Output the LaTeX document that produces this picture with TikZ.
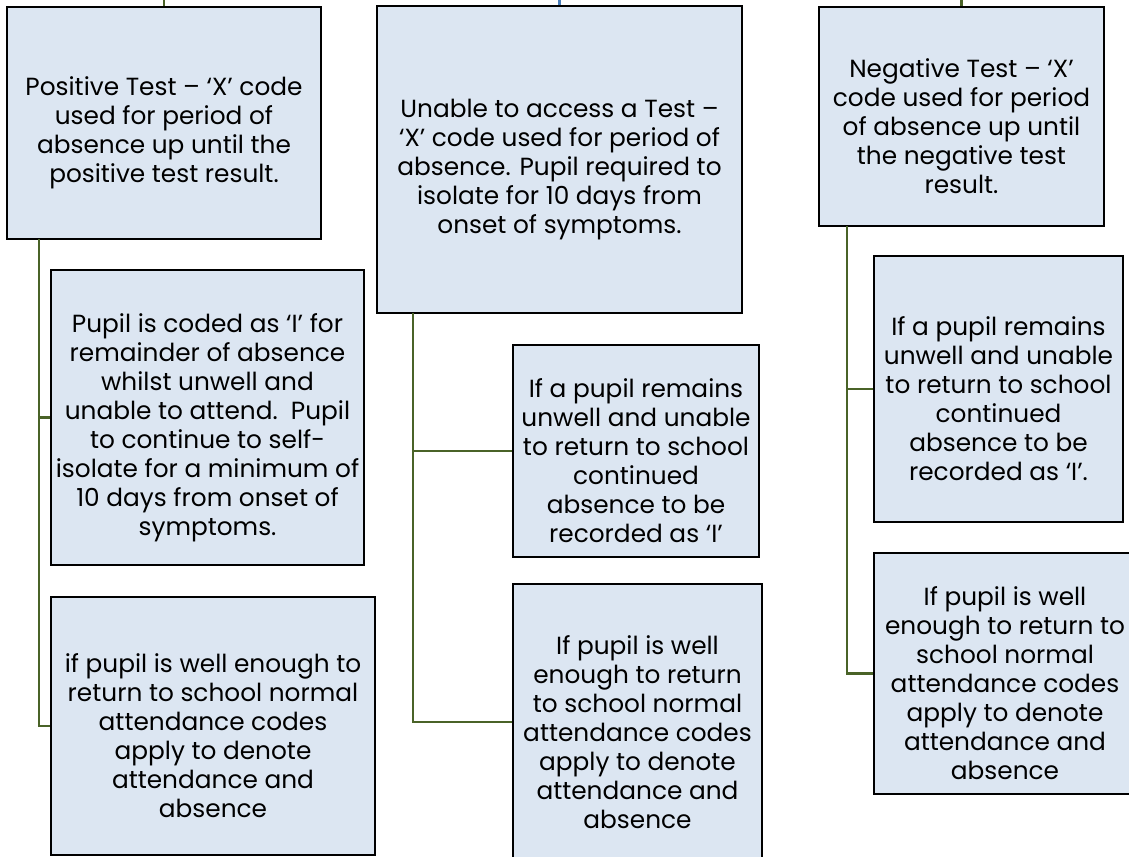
\documentclass[tikz,border=0pt]{standalone}
\usepackage{fontspec}
\setmainfont{Poppins}
\definecolor{boxfill}{HTML}{DCE6F2}
\definecolor{linegreen}{HTML}{4A6328}
\definecolor{lineblue}{HTML}{4A7EBB}
\newcommand{\droptext}{\rule{0pt}{29pt}}
\begin{document}
\begin{tikzpicture}[x=0.75pt,y=-0.75pt,
  box/.style 2 args={draw=black,line width=1.5pt,fill=boxfill,inner sep=0pt,
    align=center,minimum width=#1*0.75pt,minimum height=#2*0.75pt,
    font=\fontsize{18.6}{21.75}\selectfont},
  conn/.style={draw=linegreen,line width=1.8pt}]
\useasboundingbox (0,0) rectangle (1129,857);
\clip (0,0) rectangle (1129,857);
\node[box={314}{232}] (pos) at (164,123) {\droptext Positive Test – ‘X’ code\\used for period of\\absence up until the\\positive test result.};
\node[box={365}{307}] (unable) at (559.5,159.5) {\droptext Unable to access a Test –\\‘X’ code used for period of\\absence. Pupil required to\\isolate for 10 days from\\onset of symptoms.};
\node[box={285}{219}] (neg) at (961.5,116.5) {\droptext Negative Test – ‘X’\\code used for period\\of absence up until\\the negative test\\result.};
\node[box={313}{295}] (posI) at (207.5,417.5) {\droptext Pupil is coded as ‘I’ for\\remainder of absence\\whilst unwell and\\unable to attend.\ \ Pupil\\to continue to self-\\isolate for a minimum of\\10 days from onset of\\symptoms.};
\node[box={324}{258}] (posW) at (213,726) {\droptext if pupil is well enough to\\return to school normal\\attendance codes\\apply to denote\\attendance and\\absence};
\node[box={246}{212}] (unI) at (636,451) {\droptext If a pupil remains\\unwell and unable\\to return to school\\continued\\absence to be\\recorded as ‘I’};
\node[box={249}{276}] (unW) at (637.5,722) {\droptext If pupil is well\\enough to return\\to school normal\\attendance codes\\apply to denote\\attendance and\\absence};
\node[box={249}{266}] (negI) at (998.5,389) {\droptext If a pupil remains\\unwell and unable\\to return to school\\continued\\absence to be\\recorded as ‘I’.};
\node[box={262}{241}] (negW) at (1005,673.5) {\droptext If pupil is well\\enough to return to\\school normal\\attendance codes\\apply to denote\\attendance and\\absence};
\coordinate (inL) at (164,0);
\coordinate (inM) at (559.5,0);
\coordinate (inR) at (961.5,0);
\draw[conn] (inL) -- (pos.north);
\draw[draw=lineblue,line width=1.8pt] (inM) -- (unable.north);
\draw[conn] (inR) -- (neg.north);
\coordinate (trunkL) at (39,239);
\coordinate (trunkM) at (413,313);
\coordinate (trunkR) at (847,226);
\draw[conn] (trunkL) |- (posW.west);
\draw[conn] (trunkL |- posI.west) -- (posI.west);
\draw[conn] (trunkM) |- (unW.west);
\draw[conn] (trunkM |- unI.west) -- (unI.west);
\draw[conn] (trunkR) |- (negW.west);
\draw[conn] (trunkR |- negI.west) -- (negI.west);
\end{tikzpicture}
\end{document}
